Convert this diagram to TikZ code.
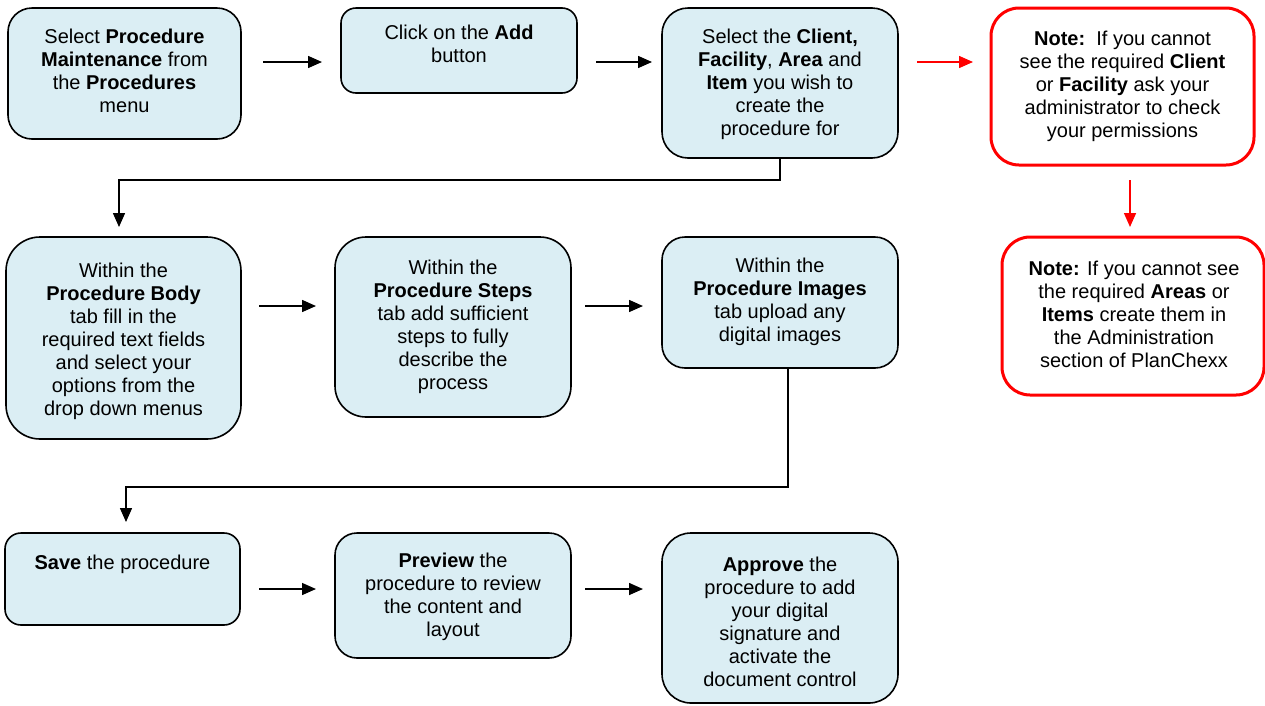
\documentclass[tikz,border=0pt]{standalone}
\usepackage{fontspec}
\setmainfont{Liberation Sans}
\usetikzlibrary{arrows.meta}
\definecolor{boxfill}{HTML}{DBEEF4}
\definecolor{notered}{HTML}{FF0000}
\tikzset{
  stepbox/.style={draw=black, line width=1.6pt, fill=boxfill, inner sep=0pt},
  notebox/.style={draw=notered, line width=3pt, fill=white, inner sep=0pt},
  % texts are placed by the baseline of their first line (strut height plus a small drop)
  txt/.style={align=center, inner sep=0pt, anchor=north, yshift=14.1pt,
    font=\fontsize{20}{23}\selectfont, execute at begin node=\strut},
  arr/.style={draw=black, line width=1.5pt, -{Triangle[length=14pt,width=12pt]}},
  redarr/.style={arr, draw=notered, fill=notered, -{Triangle[length=14pt,width=12pt,fill=notered]}}
}
\begin{document}
\begin{tikzpicture}[x=1pt,y=-1pt]
\useasboundingbox (0,0) rectangle (1265,705);

% ---- boxes ----
\node[stepbox, minimum width=233pt, minimum height=131pt, rounded corners=24pt] (A) at (124.5,73.5) {};
\node[stepbox, minimum width=236pt, minimum height=85pt, rounded corners=15pt] (B) at (459,50.5) {};
\node[stepbox, minimum width=236pt, minimum height=150pt, rounded corners=26pt] (C) at (780,83) {};
\node[notebox, minimum width=263pt, minimum height=157pt, rounded corners=28pt] (N1) at (1122.5,86.5) {};
\node[notebox, minimum width=262pt, minimum height=158pt, rounded corners=28pt] (N2) at (1133,316) {};
\node[stepbox, minimum width=235pt, minimum height=202pt, rounded corners=34pt] (D) at (123.5,338) {};
\node[stepbox, minimum width=236pt, minimum height=180pt, rounded corners=31pt] (E) at (453,327) {};
\node[stepbox, minimum width=236pt, minimum height=131pt, rounded corners=23pt] (F) at (780,302.5) {};
\node[stepbox, minimum width=235pt, minimum height=92pt, rounded corners=16pt] (G) at (122.5,579) {};
\node[stepbox, minimum width=236pt, minimum height=125pt, rounded corners=22pt] (H) at (453,595.5) {};
\node[stepbox, minimum width=236pt, minimum height=170pt, rounded corners=29pt] (I) at (780,618) {};

% ---- texts (coordinates give the first baseline) ----
\node[txt] (At) at (124.5,43) {Select \textbf{Procedure}\\\textbf{Maintenance} from\\the \textbf{Procedures}\\menu};
\node[txt] (Bt) at (459,39) {Click on the \textbf{Add}\\button};
\node[txt] (Ct) at (780,43) {Select the \textbf{Client,}\\\textbf{Facility}, \textbf{Area} and\\\textbf{Item} you wish to\\create the\\procedure for};
\node[txt] (N1t) at (1122.5,45) {\textbf{Note:}\ \ If you cannot\\see the required \textbf{Client}\\or \textbf{Facility} ask your\\administrator to check\\your permissions};
\node[txt] (N2t) at (1134,275) {\textbf{Note:} If you cannot see\\the required \textbf{Areas} or\\\textbf{Items} create them in\\the Administration\\section of PlanChexx};
\node[txt] (Dt) at (123.5,277) {Within the\\\textbf{Procedure Body}\\tab fill in the\\required text fields\\and select your\\options from the\\drop down menus};
\node[txt] (Et) at (453,274) {Within the\\\textbf{Procedure Steps}\\tab add sufficient\\steps to fully\\describe the\\process};
\node[txt] (Ft) at (780,272) {Within the\\\textbf{Procedure Images}\\tab upload any\\digital images};
\node[txt] (Gt) at (122.5,567) {\textbf{Save} the procedure};
\node[txt] (Ht) at (453,567) {\textbf{Preview} the\\procedure to review\\the content and\\layout};
\node[txt] (It) at (780,571) {\textbf{Approve} the\\procedure to add\\your digital\\signature and\\activate the\\document control};

% ---- connector ends ----
\coordinate (ab1) at (263,62);  \coordinate (ab2) at (322,62);
\coordinate (bc1) at (596,62);  \coordinate (bc2) at (652,62);
\coordinate (cn1) at (917,62);  \coordinate (cn2) at (973,62);
\coordinate (cd1) at (780,180); \coordinate (cd2) at (119,180); \coordinate (cd3) at (119,227);
\coordinate (nn1) at (1130,180); \coordinate (nn2) at (1130,227);
\coordinate (de1) at (259,306); \coordinate (de2) at (316,306);
\coordinate (ef1) at (585,306); \coordinate (ef2) at (643,306);
\coordinate (fg0) at (788,368); \coordinate (fg1) at (788,487); \coordinate (fg2) at (126,487); \coordinate (fg3) at (126,522);
\coordinate (gh1) at (259,589); \coordinate (gh2) at (316,589);
\coordinate (hi1) at (585,589); \coordinate (hi2) at (643,589);

% ---- connectors ----
\draw[arr] (ab1) -- (ab2);
\draw[arr] (bc1) -- (bc2);
\draw[redarr] (cn1) -- (cn2);
\draw[arr] (C.south) -- (cd1) -- (cd2) -- (cd3);
\draw[redarr] (nn1) -- (nn2);
\draw[arr] (de1) -- (de2);
\draw[arr] (ef1) -- (ef2);
\draw[arr] (fg0) -- (fg1) -- (fg2) -- (fg3);
\draw[arr] (gh1) -- (gh2);
\draw[arr] (hi1) -- (hi2);
\end{tikzpicture}
\end{document}
